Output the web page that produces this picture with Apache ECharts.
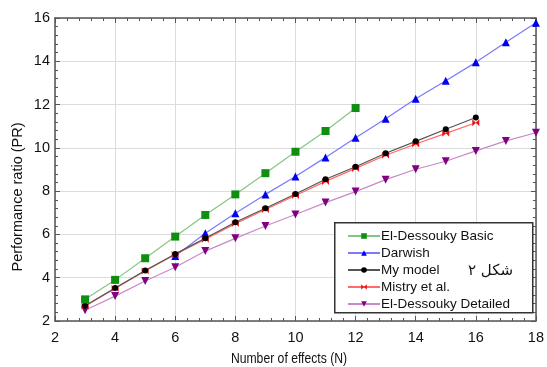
<!DOCTYPE html>
<html>
<head>
<meta charset="utf-8">
<script src="https://cdn.jsdelivr.net/npm/echarts@6/dist/echarts.min.js"></script>
<style>html,body{margin:0;padding:0;background:#fff;}#c{width:547px;height:367px;}</style>
</head>
<body>
<div id="c"></div>
<script>
// ---- data ----
var nBasic = [3,4,5,6,7,8,9,10,11,12];
var elBasic = [3.0,3.9,4.9,5.9,6.9,7.85,8.83,9.82,10.78,11.84];
var nDarwish = [6,7,8,9,10,11,12,13,14,15,16,17,18];
var darwish = [5.0,6.05,6.98,7.85,8.68,9.56,10.47,11.35,12.27,13.1,13.95,14.88,15.78];
var nModel = [3,4,5,6,7,8,9,10,11,12,13,14,15,16];
var myModel = [2.7,3.52,4.33,5.1,5.82,6.56,7.21,7.87,8.55,9.13,9.75,10.3,10.86,11.4];
var nMistry = [3,4,5,6,7,8,9,10,11,12,13,14,15,16];
var mistry = [2.68,3.5,4.31,5.07,5.78,6.5,7.15,7.8,8.45,9.05,9.66,10.18,10.67,11.16];
var nDetailed = [3,4,5,6,7,8,9,10,11,12,13,14,15,16,17,18];
var elDetailed = [2.5,3.15,3.85,4.48,5.23,5.82,6.39,6.92,7.47,7.98,8.53,9.01,9.38,9.86,10.32,10.7];
var seriesNames = ['El-Dessouky Basic','Darwish','My model','Mistry et al.','El-Dessouky Detailed'];
var xAxisTitle = 'Number of effects (N)';
var yAxisTitle = 'Performance ratio (PR)';
var figureNote = 'شكل ٢';

function pairs(xs, ys){ return xs.map(function(x,i){ return [x, ys[i]]; }); }

var sans = '"Liberation Sans", Arial, sans-serif';
var axisCol = '#555';
function mkAxis(pos, show, isX){
  return {
    type:'value', position:pos, min:2, max: isX?18:16, interval:2,
    axisLine:{show:true, onZero:false, lineStyle:{color:axisCol, width:1.5}},
    axisTick:{show:true, inside:true, length:5, lineStyle:{color:axisCol}},
    minorTick:{show:true, splitNumber:5, length:3, lineStyle:{color:axisCol}},
    splitLine:{show:show, lineStyle:{color:'#dcdcdc', width:1}},
    minorSplitLine:{show:false},
    axisLabel:{show:show, color:'#111', fontFamily:sans, fontSize:14.5, margin: isX?9:5}
  };
}
var xb = mkAxis('bottom', true, true);
var xt = mkAxis('top', false, true);
var yl = mkAxis('left', true, false);
var yr = mkAxis('right', false, false);
[xb,xt,yl,yr].forEach(function(a){ a.minorTick.inside = true; });

var bowtie = 'path://M0,0L5,5L0,10ZM10,0L5,5L10,10Z';
function ser(name, xs, ys, lineCol, symCol, symbol, size, z, rot){
  return {
    name:name, type:'line', xAxisIndex:0, yAxisIndex:0, data:pairs(xs,ys),
    symbol:symbol, symbolSize:size, symbolRotate:rot||0, showSymbol:true, z:z,
    lineStyle:{color:lineCol, width:1.2},
    itemStyle:{color:symCol, borderWidth:0},
    emphasis:{disabled:true}, animation:false
  };
}

var chart = echarts.init(document.getElementById('c'), null, {renderer:'canvas'});
chart.setOption({
  animation:false,
  backgroundColor:'#fff',
  grid:{left:55, right:6, top:18, bottom:46},
  xAxis:[xb, xt],
  yAxis:[yl, yr],
  legend:{
    orient:'vertical', left:347, top:229, padding:0, itemGap:3, z:120,
    itemWidth:32, itemHeight:7,
    data: seriesNames,
    textStyle:{color:'#111', fontFamily:sans, fontSize:13.5, lineHeight:14, padding:[0,0,0,-4]},
    selectedMode:false
  },
  series:[
    ser(seriesNames[0], nBasic, elBasic, '#82c882', '#0f8f0f', 'rect', 8, 6),
    ser(seriesNames[1], nDarwish, darwish, '#7a7aff', '#0000ee', 'triangle', 8, 3),
    ser(seriesNames[2], nModel, myModel, '#555555', '#000000', 'circle', 6, 5),
    ser(seriesNames[3], nMistry, mistry, '#ff6a6a', '#ee1111', bowtie, 7, 4),
    ser(seriesNames[4], nDetailed, elDetailed, '#c78ac7', '#800080', 'triangle', 8, 2, 180)
  ],
  graphic:[
    {type:'rect', left:334, top:222, shape:{width:198, height:90}, z:10,
     style:{fill:'#fff', stroke:'#333', lineWidth:1.5}},
    {type:'text', left:468, top:264, z:100,
     style:{text:figureNote, font:'15px "DejaVu Sans"', fill:'#111'}},
    {type:'text', x:18, y:197, rotation:Math.PI/2, z:100,
     style:{text:yAxisTitle, font:'14.5px "Liberation Sans", Arial', fill:'#111', align:'center', verticalAlign:'middle'}},
    {type:'text', x:289, y:359, scaleX:0.87, z:100,
     style:{text:xAxisTitle, font:'14px "Liberation Sans", Arial', fill:'#111', align:'center', verticalAlign:'middle'}}
  ]
});
</script>
</body>
</html>
